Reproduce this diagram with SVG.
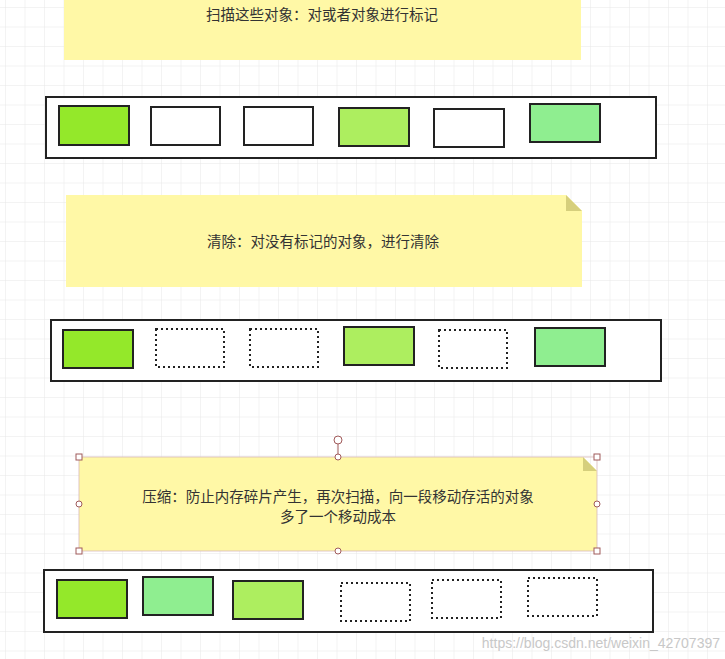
<svg xmlns="http://www.w3.org/2000/svg" width="725" height="659" viewBox="0 0 725 659">
<defs>
<pattern id="grid" width="19.5" height="19.5" patternUnits="userSpaceOnUse" x="6" y="8">
<path d="M19.5 0V19.5M0 19.5H19.5" fill="none" stroke="#e8e8e8" stroke-width="1"/>
</pattern>
<style>
.note{fill:#FFF8A6}
.fold{fill:#D6CF7C}
.bar{fill:#fff;stroke:#222;stroke-width:2}
.box{stroke:#222;stroke-width:2}
.empty{fill:#fff;stroke:#222;stroke-width:2}
.dot{fill:#fff;stroke:#222;stroke-width:2;stroke-dasharray:2 3}
.t{font-family:"Noto Sans CJK SC","Noto Sans",sans-serif;font-size:14.5px;fill:#333;text-anchor:middle}
.h{fill:#fff;stroke:#a05a5a;stroke-width:1}
.g1{fill:#94E82A}.g2{fill:#ADEE5F}.g3{fill:#8FEE90}
</style>
</defs>
<rect width="725" height="659" fill="#fff"/>
<rect width="725" height="659" fill="url(#grid)"/>
<g id="note1"><rect class="note" x="64" y="0" width="517" height="60"/><text class="t" x="322" y="20">扫描这些对象：对或者对象进行标记</text></g>
<g id="bar1">
<rect class="bar" x="46" y="97" width="610" height="61"/>
<rect class="box g1" x="59" y="106" width="70" height="39"/>
<rect class="empty" x="151" y="107" width="69" height="38"/>
<rect class="empty" x="244" y="107" width="69" height="38"/>
<rect class="box g2" x="339" y="108" width="70" height="38"/>
<rect class="empty" x="434" y="109" width="70" height="38"/>
<rect class="box g3" x="530" y="104" width="70" height="38"/>
</g>
<g id="note2"><path class="note" d="M66 195H566L582 211V287H66Z"/><path class="fold" d="M566 195L582 211H566Z"/><text class="t" x="323" y="247">清除：对没有标记的对象，进行清除</text></g>
<g id="bar2">
<rect class="bar" x="51" y="320" width="610" height="61"/>
<rect class="box g1" x="63" y="330" width="70" height="38"/>
<rect class="dot" x="156" y="329" width="68" height="38"/>
<rect class="dot" x="250" y="329" width="68" height="38"/>
<rect class="box g2" x="344" y="327" width="70" height="38"/>
<rect class="dot" x="439" y="330" width="68" height="38"/>
<rect class="box g3" x="535" y="328" width="70" height="38"/>
</g>
<g id="note3">
<path class="note" d="M79 457H583L597 471V551H79Z"/><path class="fold" d="M583 457L597 471H583Z"/>
<rect x="79" y="457" width="518" height="94" fill="none" stroke="#d8b8b8" stroke-width="0.8"/>
<line x1="338" y1="440" x2="338" y2="457" stroke="#a05a5a"/>
<circle class="h" cx="338" cy="440" r="4"/>
<rect class="h" x="76" y="454" width="6" height="6"/><rect class="h" x="594" y="454" width="6" height="6"/>
<rect class="h" x="76" y="548" width="6" height="6"/><rect class="h" x="594" y="548" width="6" height="6"/>
<circle class="h" cx="338" cy="457" r="3"/><circle class="h" cx="338" cy="551" r="3"/>
<circle class="h" cx="79" cy="504" r="3"/><circle class="h" cx="597" cy="504" r="3"/>
<text class="t" x="338" y="502">压缩：防止内存碎片产生，再次扫描，向一段移动存活的对象</text>
<text class="t" x="338" y="522">多了一个移动成本</text>
</g>
<g id="bar3">
<rect class="bar" x="44" y="570" width="609" height="62"/>
<rect class="box g1" x="57" y="580" width="70" height="38"/>
<rect class="box g3" x="143" y="577" width="70" height="38"/>
<rect class="box g2" x="233" y="581" width="70" height="38"/>
<rect class="dot" x="341" y="583" width="69" height="38"/>
<rect class="dot" x="432" y="580" width="69" height="38"/>
<rect class="dot" x="528" y="578" width="69" height="38"/>
</g>
<g id="connectors"/>
<text x="720" y="648" font-family="Liberation Sans,sans-serif" font-size="14" fill="#c8c8c8" text-anchor="end">https://blog.csdn.net/weixin_42707397</text>
</svg>
